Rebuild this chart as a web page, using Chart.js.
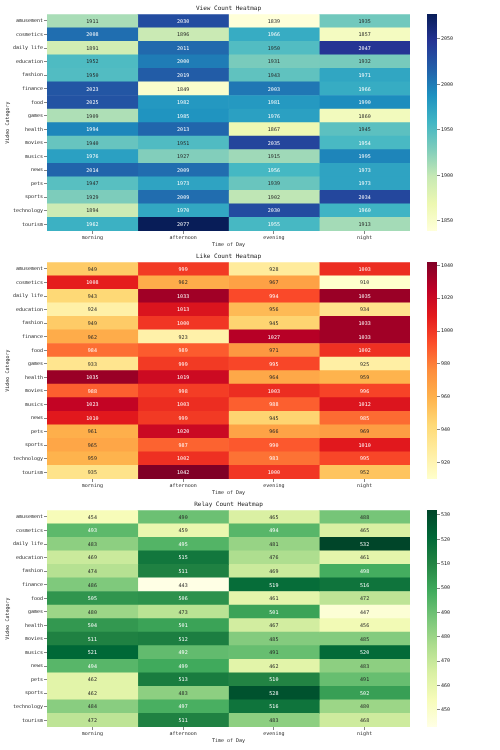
<!DOCTYPE html>
<html>
<head>
<meta charset="utf-8">
<script src="https://cdn.jsdelivr.net/npm/chart.js@4.4.1/dist/chart.umd.min.js"></script>
<style>
  body { margin: 0; background: #fff; width: 500px; height: 750px; position: relative; overflow: hidden; }
  canvas { position: absolute; }
  .hm { left: 0; }
  .cb { left: 420px; }
</style>
</head>
<body>
<canvas id="viewMap" class="hm" width="410" height="248" style="top:0"></canvas>
<canvas id="viewBar" class="cb" width="80" height="248" style="top:0"></canvas>
<canvas id="likeMap" class="hm" width="410" height="248" style="top:248px"></canvas>
<canvas id="likeBar" class="cb" width="80" height="248" style="top:248px"></canvas>
<canvas id="relayMap" class="hm" width="410" height="248" style="top:496px"></canvas>
<canvas id="relayBar" class="cb" width="80" height="248" style="top:496px"></canvas>
<script>
const categories = ['amusement', 'cosmetics', 'daily life', 'education', 'fashion', 'finance', 'food', 'games',
  'health', 'movies', 'musics', 'news', 'pets', 'sports', 'technology', 'tourism'];
const times = ['morning', 'afternoon', 'evening', 'night'];

// view counts per time of day
const viewMorning   = [1911, 2008, 1891, 1952, 1950, 2023, 2025, 1909, 1994, 1940, 1976, 2014, 1947, 1929, 1894, 1962];
const viewAfternoon = [2030, 1896, 2011, 2000, 2019, 1849, 1982, 1985, 2013, 1951, 1927, 2009, 1973, 2009, 1970, 2077];
const viewEvening   = [1839, 1966, 1950, 1931, 1943, 2003, 1981, 1976, 1867, 2035, 1915, 1956, 1939, 1902, 2030, 1955];
const viewNight     = [1935, 1857, 2047, 1932, 1971, 1966, 1990, 1860, 1945, 1954, 1995, 1973, 1973, 2034, 1960, 1913];

// like counts
const likeMorning   = [949, 1008, 943, 924, 949, 962, 984, 933, 1035, 988, 1023, 1010, 961, 965, 959, 935];
const likeAfternoon = [999, 962, 1033, 1013, 1000, 923, 989, 999, 1019, 998, 1003, 999, 1020, 987, 1002, 1042];
const likeEvening   = [928, 967, 994, 956, 945, 1027, 971, 995, 964, 1003, 988, 945, 966, 990, 983, 1000];
const likeNight     = [1003, 910, 1035, 934, 1033, 1033, 1002, 925, 959, 996, 1012, 985, 969, 1010, 995, 952];

// relay counts
const relayMorning   = [454, 493, 483, 469, 474, 486, 505, 480, 504, 511, 521, 494, 462, 462, 484, 472];
const relayAfternoon = [490, 459, 495, 515, 511, 443, 506, 473, 501, 512, 492, 499, 513, 483, 497, 511];
const relayEvening   = [465, 494, 481, 476, 469, 519, 461, 501, 467, 485, 491, 462, 510, 528, 516, 483];
const relayNight     = [488, 465, 532, 461, 498, 516, 472, 447, 456, 485, 520, 483, 491, 502, 480, 468];

// colorbar ticks
const viewTicks = [1850, 1900, 1950, 2000, 2050];
const likeTicks = [920, 940, 960, 980, 1000, 1020, 1040];
const relayTicks = [450, 460, 470, 480, 490, 500, 510, 520, 530];

const YlGnBu = ['#ffffd9', '#edf8b1', '#c7e9b4', '#7fcdbb', '#41b6c4', '#1d91c0', '#225ea8', '#253494', '#081d58'];
const YlOrRd = ['#ffffcc', '#ffeda0', '#fed976', '#feb24c', '#fd8d3c', '#fc4e2a', '#e31a1c', '#bd0026', '#800026'];
const YlGn = ['#ffffe5', '#f7fcb9', '#d9f0a3', '#addd8e', '#78c679', '#41ab5d', '#238443', '#006837', '#004529'];

const FONT = '"DejaVu Sans Mono", monospace';
Chart.defaults.font.family = FONT;
Chart.defaults.color = '#222';

function hexRgb(h) {
  return [parseInt(h.slice(1, 3), 16), parseInt(h.slice(3, 5), 16), parseInt(h.slice(5, 7), 16)];
}

function colorAt(cmap, t) {
  t = Math.max(0, Math.min(1, t));
  const pos = t * (cmap.length - 1);
  const i = Math.min(Math.floor(pos), cmap.length - 2);
  const f = pos - i;
  const a = hexRgb(cmap[i]), b = hexRgb(cmap[i + 1]);
  return a.map((v, k) => Math.round(v + (b[k] - v) * f));
}

// same rule seaborn uses to pick annotation colour
function textColor(rgb) {
  const lin = rgb.map(v => {
    v /= 255;
    return v <= 0.03928 ? v / 12.92 : Math.pow((v + 0.055) / 1.055, 2.4);
  });
  const lum = 0.2126 * lin[0] + 0.7152 * lin[1] + 0.0722 * lin[2];
  return lum > 0.408 ? '#262626' : '#ffffff';
}

const cellText = {
  id: 'cellText',
  afterDatasetsDraw(chart) {
    const c = chart.ctx;
    c.save();
    c.font = '5px ' + FONT;
    c.textAlign = 'center';
    c.textBaseline = 'middle';
    chart.data.datasets.forEach((ds, i) => {
      chart.getDatasetMeta(i).data.forEach((bar, k) => {
        const p = bar.getProps(['x', 'y', 'base'], true);
        c.fillStyle = textColor(ds.rgb[k]);
        c.fillText(ds.values[k], (p.x + p.base) / 2, p.y + 0.5);
      });
    });
    c.restore();
  }
};

const tickGrid = { drawOnChartArea: false, tickLength: 3, tickWidth: 0.6, color: '#333', offset: false };

function heatmap(id, title, cols, cmap) {
  const all = cols.flat();
  const vmin = Math.min(...all), vmax = Math.max(...all);
  const datasets = cols.map((col, j) => {
    const rgb = col.map(v => colorAt(cmap, (v - vmin) / (vmax - vmin)));
    return {
      label: times[j],
      data: col.map(() => 1),
      values: col,
      rgb: rgb,
      backgroundColor: rgb.map(c => `rgb(${c[0]},${c[1]},${c[2]})`),
      borderWidth: 0,
      barPercentage: 1,
      categoryPercentage: 1
    };
  });

  new Chart(document.getElementById(id), {
    type: 'bar',
    data: { labels: categories, datasets: datasets },
    options: {
      indexAxis: 'y',
      responsive: false,
      animation: false,
      plugins: {
        legend: { display: false },
        tooltip: { enabled: false },
        title: {
          display: true, text: title, fullSize: false,
          font: { size: 6, weight: 'normal' }, color: '#222',
          padding: { top: 5, bottom: 2 }
        }
      },
      scales: {
        x: {
          type: 'linear', stacked: true, min: 0, max: 4,
          afterBuildTicks: s => { s.ticks = times.map((t, i) => ({ value: i + 0.5 })); },
          ticks: { callback: v => times[Math.floor(v)], font: { size: 5 }, padding: 1, maxRotation: 0, autoSkip: false },
          grid: tickGrid,
          border: { display: false },
          title: { display: true, text: 'Time of Day', font: { size: 5 }, padding: { top: 0, bottom: 0 } },
          afterFit: s => { s.height = 17; }
        },
        y: {
          stacked: true,
          ticks: { font: { size: 5 }, padding: 1, autoSkip: false },
          grid: tickGrid,
          border: { display: false },
          title: { display: true, text: 'Video Category', font: { size: 5 }, padding: { top: 5, bottom: 0 } },
          afterFit: s => { s.width = 47; }
        }
      }
    },
    plugins: [cellText]
  });
  return [vmin, vmax];
}

function colorbar(id, range, tickVals, cmap) {
  const [vmin, vmax] = range;
  new Chart(document.getElementById(id), {
    type: 'bar',
    data: {
      labels: [''],
      datasets: [{
        data: [[vmin, vmax]],
        barPercentage: 1,
        categoryPercentage: 1,
        borderWidth: 0,
        backgroundColor: ctx => {
          const a = ctx.chart.chartArea;
          if (!a) return null;
          const g = ctx.chart.ctx.createLinearGradient(0, a.bottom, 0, a.top);
          cmap.forEach((c, i) => g.addColorStop(i / (cmap.length - 1), c));
          return g;
        }
      }]
    },
    options: {
      responsive: false,
      animation: false,
      layout: { padding: { left: 7, top: 14, bottom: 17, right: 0 } },
      plugins: { legend: { display: false }, tooltip: { enabled: false } },
      scales: {
        x: { display: false },
        y: {
          position: 'right', min: vmin, max: vmax,
          afterBuildTicks: s => { s.ticks = tickVals.map(v => ({ value: v })); },
          ticks: { font: { size: 5 }, padding: 1, callback: v => String(v) },
          grid: tickGrid,
          border: { display: false },
          afterFit: s => { s.width = 63; }
        }
      }
    }
  });
}

const viewRange = heatmap('viewMap', 'View Count Heatmap', [viewMorning, viewAfternoon, viewEvening, viewNight], YlGnBu);
colorbar('viewBar', viewRange, viewTicks, YlGnBu);
const likeRange = heatmap('likeMap', 'Like Count Heatmap', [likeMorning, likeAfternoon, likeEvening, likeNight], YlOrRd);
colorbar('likeBar', likeRange, likeTicks, YlOrRd);
const relayRange = heatmap('relayMap', 'Relay Count Heatmap', [relayMorning, relayAfternoon, relayEvening, relayNight], YlGn);
colorbar('relayBar', relayRange, relayTicks, YlGn);
</script>
</body>
</html>
